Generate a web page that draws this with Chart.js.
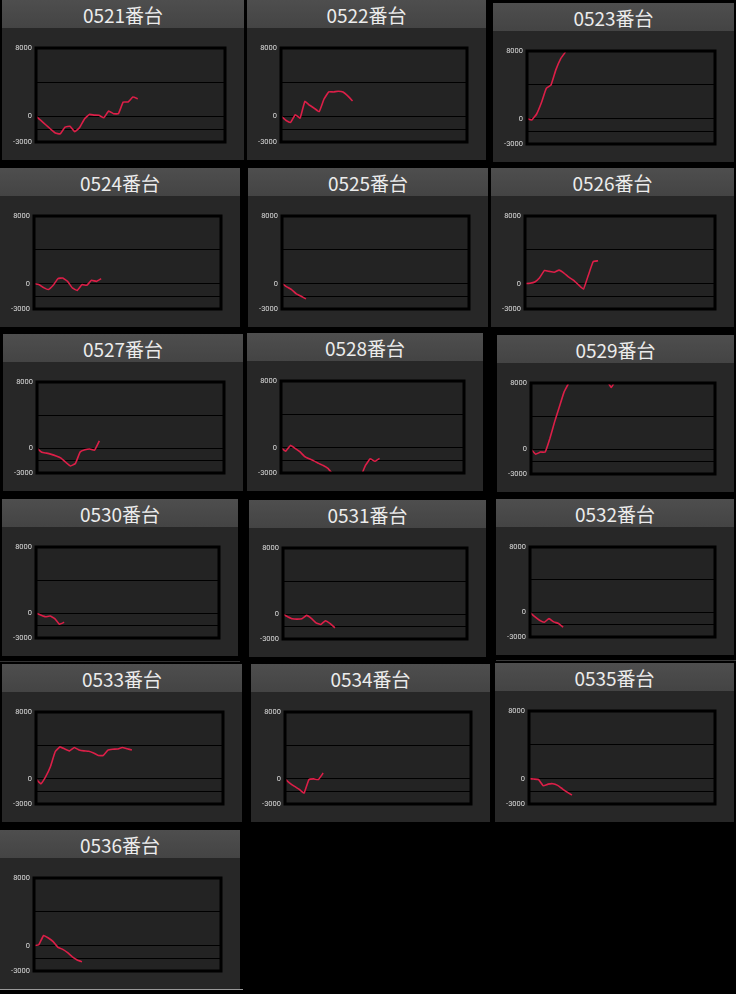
<!DOCTYPE html>
<html lang="ja">
<head>
<meta charset="UTF-8">
<title>番台別グラフ</title>
<script src="https://cdn.jsdelivr.net/npm/chart.js"></script>
<style>
  html, body { margin: 0; padding: 0; background: #000; }
  body { width: 736px; height: 994px; position: relative; overflow: hidden;
         font-family: "Noto Sans CJK JP", "Noto Sans", sans-serif; }
  .panel { position: absolute; background: #272727; }
  .panel .title { height: 28px; line-height: 29px; background: linear-gradient(#4e4e4e, #444); color: #ececec;
                  font-size: 19px; text-align: center; }
  .panel canvas { display: block; }
  .rule { position: absolute; height: 1px; }
</style>
</head>
<body>
<div id="board"></div>
<div class="rule" style="left:0;top:661px;width:240px;background:#333"></div>
<div class="rule" style="left:496px;top:660px;width:240px;background:#3a3a3a"></div>
<div class="rule" style="left:0;top:989px;width:243px;background:#999"></div>

<script>
// 番台名
const machines = ['0521番台', '0522番台', '0523番台', '0524番台', '0525番台', '0526番台',
                  '0527番台', '0528番台', '0529番台', '0530番台', '0531番台', '0532番台',
                  '0533番台', '0534番台', '0535番台', '0536番台'];

// 差枚の推移
const s0521 = [0, -470, -980, -1480, -1950, -2050, -1250, -1150, -1800, -1300, -300, 230, 150, 120, -150, 620, 310, 310, 1680, 1680, 2260, 2070];
const s0522 = [0, -450, -700, 200, -200, 1750, 1300, 940, 550, 2000, 2860, 2860, 2940, 2860, 2390, 1800];
const s0523 = [0, -150, 550, 1900, 3570, 4000, 5800, 7100, 7900];
const s0524 = [0, -100, -470, -700, -200, 590, 670, 270, -510, -800, -120, -200, 390, 270, 590];
const s0525 = [0, -380, -700, -1220, -1500, -1800];
const s0526 = [0, 50, 200, 700, 1560, 1450, 1350, 1600, 1250, 760, 400, -150, -650, 1000, 2600, 2700];
const s0527 = [0, -500, -600, -750, -950, -1200, -1700, -2150, -1850, -470, -200, -100, -250, 870];
const s0528 = [0, -400, 300, -50, -450, -1000, -1300, -1550, -1850, -2100, -2450, -3100, -3600, -4000, -4300, -4300, -4000, -3400, -2100, -1300, -1600, -1250];
const s0529 = [0, -600, -350, -350, 1300, 3300, 5100, 6900, 8000, 9500, 10500, 11000, 11000, 10500, 10000, 9000, 8400, 7450, 8400];
const s0530 = [0, -220, -430, -350, -650, -1350, -1100];
const s0531 = [0, -300, -560, -600, -550, -150, -500, -1050, -1250, -800, -1150, -1650];
const s0532 = [0, -520, -950, -1200, -750, -1150, -1350, -1800];
const s0533 = [0, -590, 240, 1450, 3250, 3830, 3580, 3350, 3760, 3460, 3350, 3310, 3100, 2800, 2800, 3450, 3550, 3580, 3750, 3600, 3460];
const s0534 = [0, -500, -900, -1250, -1700, -100, 0, -80, 700];
const s0535 = [0, -50, -100, -850, -650, -600, -800, -1200, -1600, -1950];
const s0536 = [0, 100, 1200, 900, 480, -200, -440, -830, -1330, -1700, -1900];

const series = [s0521, s0522, s0523, s0524, s0525, s0526, s0527, s0528,
                s0529, s0530, s0531, s0532, s0533, s0534, s0535, s0536];

// 横軸のコマ数と縦軸の目盛り
const slotCount = 40;
const yTicks = [8000, 4000, 0, -1500, -3000];
const yLabelled = [8000, 0, -3000];

// パネルの位置 [left, top, width, height]
const boxes = [
  [2, 0, 242, 160], [247, 0, 239, 160], [493, 3, 241, 159],
  [0, 168, 240, 159], [248, 168, 240, 159], [491, 168, 243, 159],
  [3, 334, 240, 157], [247, 333, 236, 158], [497, 335, 237, 157],
  [2, 499, 236, 157], [249, 500, 237, 157], [496, 499, 238, 156],
  [2, 664, 240, 158], [251, 664, 239, 158], [495, 663, 239, 159],
  [0, 830, 240, 159]
];

const slots = [];
for (let i = 0; i < slotCount; i++) slots.push(i);

// プロット領域の背景と枠
const frame = {
  id: 'frame',
  beforeDraw(chart) {
    const a = chart.chartArea, c = chart.ctx;
    c.save();
    c.fillStyle = '#232323';
    c.fillRect(a.left, a.top, a.right - a.left, a.bottom - a.top);
    c.restore();
  },
  afterDraw(chart) {
    const a = chart.chartArea, c = chart.ctx;
    c.save();
    c.strokeStyle = '#000';
    c.lineWidth = 3;
    c.strokeRect(a.left, a.top, a.right - a.left, a.bottom - a.top);
    c.restore();
  }
};

const board = document.getElementById('board');
machines.forEach((name, k) => {
  const [x, y, w, h] = boxes[k];
  const panel = document.createElement('div');
  panel.className = 'panel';
  panel.style.left = x + 'px';
  panel.style.top = y + 'px';
  panel.style.width = w + 'px';
  panel.style.height = h + 'px';
  const title = document.createElement('div');
  title.className = 'title';
  title.textContent = name;
  const canvas = document.createElement('canvas');
  canvas.width = w;
  canvas.height = h - 28;
  panel.appendChild(title);
  panel.appendChild(canvas);
  board.appendChild(panel);

  new Chart(canvas.getContext('2d'), {
    type: 'line',
    data: {
      labels: slots,
      datasets: [{
        data: series[k],
        borderColor: '#dc1f48',
        borderWidth: 1.6,
        pointRadius: 0,
        tension: 0.1,
        clip: 0
      }]
    },
    options: {
      responsive: false,
      animation: false,
      layout: { padding: { top: 20, right: 19, bottom: 18, left: 0 } },
      plugins: { legend: { display: false }, tooltip: { enabled: false } },
      scales: {
        x: { display: false },
        y: {
          min: -3000,
          max: 8000,
          afterBuildTicks: axis => { axis.ticks = yTicks.map(v => ({ value: v })); },
          afterFit: axis => { axis.width = 34; },
          border: { display: false },
          grid: { color: '#000', lineWidth: 1, drawTicks: false },
          ticks: {
            padding: 4,
            color: '#dcdcdc',
            font: { family: 'Roboto', size: 7.5 },
            callback: v => yLabelled.includes(v) ? String(v) : ''
          }
        }
      }
    },
    plugins: [frame]
  });
});
</script>
</body>
</html>
